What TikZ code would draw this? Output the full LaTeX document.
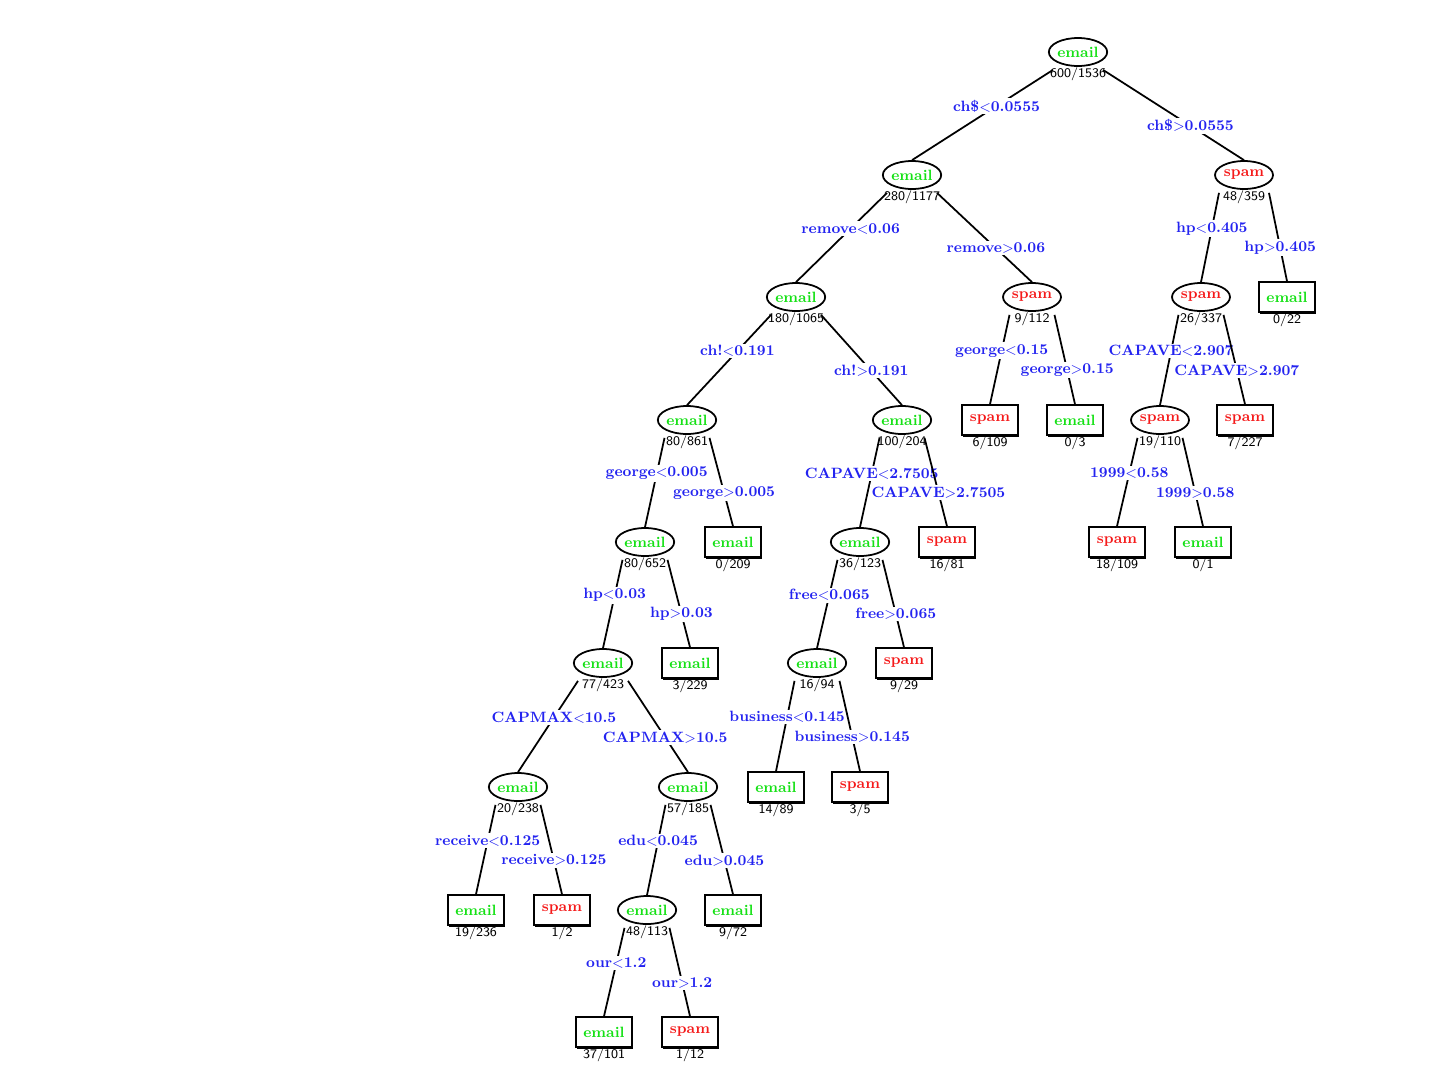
\documentclass[tikz,border=0pt]{standalone}
\usepackage{tikz}
\usetikzlibrary{shapes.geometric,shadows}

\definecolor{emailgreen}{RGB}{20,225,20}
\definecolor{spamred}{RGB}{245,25,25}
\definecolor{condblue}{RGB}{35,35,240}

\begin{document}
\begin{tikzpicture}[
    x=0.02cm, y=-0.02cm,
    every node/.style={font=\fontsize{8.5}{10}\selectfont\bfseries},
    split/.style={draw, ellipse, line width=1pt, fill=white, inner sep=0pt, minimum width=1.16cm, minimum height=0.56cm},
    leafbox/.style={draw, rectangle, line width=0.9pt, fill=white, inner sep=0pt, minimum width=1.12cm, minimum height=0.6cm,
        drop shadow={shadow xshift=0.7pt, shadow yshift=-0.9pt, fill=black, opacity=1}},
    email/.style={text=emailgreen},
    spam/.style={text=spamred},
    count/.style={font=\sffamily\fontsize{7.5}{8}\selectfont, inner sep=0pt, text=black},
    cond/.style={text=condblue, fill=white, inner sep=1pt},
    branch/.style={line width=1pt},
    lo/.style={cond, pos=0.40},
    hi/.style={cond, pos=0.62}
]
\useasboundingbox (0,0) rectangle (1440,1080);

% splits and leaves
\node[split, email, label={[count]below:600/1536}] (n1) at (1078,52) {email};
\node[split, email, label={[count]below:280/1177}] (n2) at (912,175) {email};
\node[split, spam, label={[count]below:48/359}] (n3) at (1244,175) {spam};
\node[split, email, label={[count]below:180/1065}] (n4) at (796,297) {email};
\node[split, spam, label={[count]below:9/112}] (n5) at (1032,297) {spam};
\node[split, spam, label={[count]below:26/337}] (n6) at (1201,297) {spam};
\node[leafbox, email, label={[count]below:0/22}] (n7) at (1287,297) {email};
\node[split, email, label={[count]below:80/861}] (n8) at (687,420) {email};
\node[split, email, label={[count]below:100/204}] (n9) at (902,420) {email};
\node[leafbox, spam, label={[count]below:6/109}] (n10) at (990,420) {spam};
\node[leafbox, email, label={[count]below:0/3}] (n11) at (1075,420) {email};
\node[split, spam, label={[count]below:19/110}] (n12) at (1160,420) {spam};
\node[leafbox, spam, label={[count]below:7/227}] (n13) at (1245,420) {spam};
\node[split, email, label={[count]below:80/652}] (n14) at (645,542) {email};
\node[leafbox, email, label={[count]below:0/209}] (n15) at (733,542) {email};
\node[split, email, label={[count]below:36/123}] (n16) at (860,542) {email};
\node[leafbox, spam, label={[count]below:16/81}] (n17) at (947,542) {spam};
\node[leafbox, spam, label={[count]below:18/109}] (n18) at (1117,542) {spam};
\node[leafbox, email, label={[count]below:0/1}] (n19) at (1203,542) {email};
\node[split, email, label={[count]below:77/423}] (n20) at (603,663) {email};
\node[leafbox, email, label={[count]below:3/229}] (n21) at (690,663) {email};
\node[split, email, label={[count]below:16/94}] (n22) at (817,663) {email};
\node[leafbox, spam, label={[count]below:9/29}] (n23) at (904,663) {spam};
\node[split, email, label={[count]below:20/238}] (n24) at (518,787) {email};
\node[split, email, label={[count]below:57/185}] (n25) at (688,787) {email};
\node[leafbox, email, label={[count]below:14/89}] (n26) at (776,787) {email};
\node[leafbox, spam, label={[count]below:3/5}] (n27) at (860,787) {spam};
\node[leafbox, email, label={[count]below:19/236}] (n28) at (476,910) {email};
\node[leafbox, spam, label={[count]below:1/2}] (n29) at (562,910) {spam};
\node[split, email, label={[count]below:48/113}] (n30) at (647,910) {email};
\node[leafbox, email, label={[count]below:9/72}] (n31) at (733,910) {email};
\node[leafbox, email, label={[count]below:37/101}] (n32) at (604,1032) {email};
\node[leafbox, spam, label={[count]below:1/12}] (n33) at (690,1032) {spam};

% branches leave from under the split, left or right of its count
\draw[branch] ([xshift=-0.5cm,yshift=-0.06cm]n1.south) -- node[lo] {ch\$$<$0.0555} (n2.north);
\draw[branch] ([xshift=0.5cm,yshift=-0.06cm]n1.south) -- node[hi] {ch\$$>$0.0555} (n3.north);
\draw[branch] ([xshift=-0.5cm,yshift=-0.06cm]n2.south) -- node[lo] {remove$<$0.06} (n4.north);
\draw[branch] ([xshift=0.5cm,yshift=-0.06cm]n2.south) -- node[hi] {remove$>$0.06} (n5.north);
\draw[branch] ([xshift=-0.5cm,yshift=-0.06cm]n3.south) -- node[lo] {hp$<$0.405} (n6.north);
\draw[branch] ([xshift=0.5cm,yshift=-0.06cm]n3.south) -- node[hi] {hp$>$0.405} (n7.north);
\draw[branch] ([xshift=-0.5cm,yshift=-0.06cm]n4.south) -- node[lo] {ch!$<$0.191} (n8.north);
\draw[branch] ([xshift=0.5cm,yshift=-0.06cm]n4.south) -- node[hi] {ch!$>$0.191} (n9.north);
\draw[branch] ([xshift=-0.45cm,yshift=-0.06cm]n5.south) -- node[lo] {george$<$0.15} (n10.north);
\draw[branch] ([xshift=0.45cm,yshift=-0.06cm]n5.south) -- node[hi] {george$>$0.15} (n11.north);
\draw[branch] ([xshift=-0.45cm,yshift=-0.06cm]n6.south) -- node[lo] {CAPAVE$<$2.907} (n12.north);
\draw[branch] ([xshift=0.45cm,yshift=-0.06cm]n6.south) -- node[hi] {CAPAVE$>$2.907} (n13.north);
\draw[branch] ([xshift=-0.45cm,yshift=-0.06cm]n8.south) -- node[lo] {george$<$0.005} (n14.north);
\draw[branch] ([xshift=0.45cm,yshift=-0.06cm]n8.south) -- node[hi] {george$>$0.005} (n15.north);
\draw[branch] ([xshift=-0.45cm,yshift=-0.06cm]n9.south) -- node[lo] {CAPAVE$<$2.7505} (n16.north);
\draw[branch] ([xshift=0.45cm,yshift=-0.06cm]n9.south) -- node[hi] {CAPAVE$>$2.7505} (n17.north);
\draw[branch] ([xshift=-0.45cm,yshift=-0.06cm]n12.south) -- node[lo] {1999$<$0.58} (n18.north);
\draw[branch] ([xshift=0.45cm,yshift=-0.06cm]n12.south) -- node[hi] {1999$>$0.58} (n19.north);
\draw[branch] ([xshift=-0.45cm,yshift=-0.06cm]n14.south) -- node[lo] {hp$<$0.03} (n20.north);
\draw[branch] ([xshift=0.45cm,yshift=-0.06cm]n14.south) -- node[hi] {hp$>$0.03} (n21.north);
\draw[branch] ([xshift=-0.45cm,yshift=-0.06cm]n16.south) -- node[lo] {free$<$0.065} (n22.north);
\draw[branch] ([xshift=0.45cm,yshift=-0.06cm]n16.south) -- node[hi] {free$>$0.065} (n23.north);
\draw[branch] ([xshift=-0.5cm,yshift=-0.06cm]n20.south) -- node[lo] {CAPMAX$<$10.5} (n24.north);
\draw[branch] ([xshift=0.5cm,yshift=-0.06cm]n20.south) -- node[hi] {CAPMAX$>$10.5} (n25.north);
\draw[branch] ([xshift=-0.45cm,yshift=-0.06cm]n22.south) -- node[lo] {business$<$0.145} (n26.north);
\draw[branch] ([xshift=0.45cm,yshift=-0.06cm]n22.south) -- node[hi] {business$>$0.145} (n27.north);
\draw[branch] ([xshift=-0.45cm,yshift=-0.06cm]n24.south) -- node[lo] {receive$<$0.125} (n28.north);
\draw[branch] ([xshift=0.45cm,yshift=-0.06cm]n24.south) -- node[hi] {receive$>$0.125} (n29.north);
\draw[branch] ([xshift=-0.45cm,yshift=-0.06cm]n25.south) -- node[lo] {edu$<$0.045} (n30.north);
\draw[branch] ([xshift=0.45cm,yshift=-0.06cm]n25.south) -- node[hi] {edu$>$0.045} (n31.north);
\draw[branch] ([xshift=-0.45cm,yshift=-0.06cm]n30.south) -- node[lo] {our$<$1.2} (n32.north);
\draw[branch] ([xshift=0.45cm,yshift=-0.06cm]n30.south) -- node[hi] {our$>$1.2} (n33.north);
\end{tikzpicture}
\end{document}
